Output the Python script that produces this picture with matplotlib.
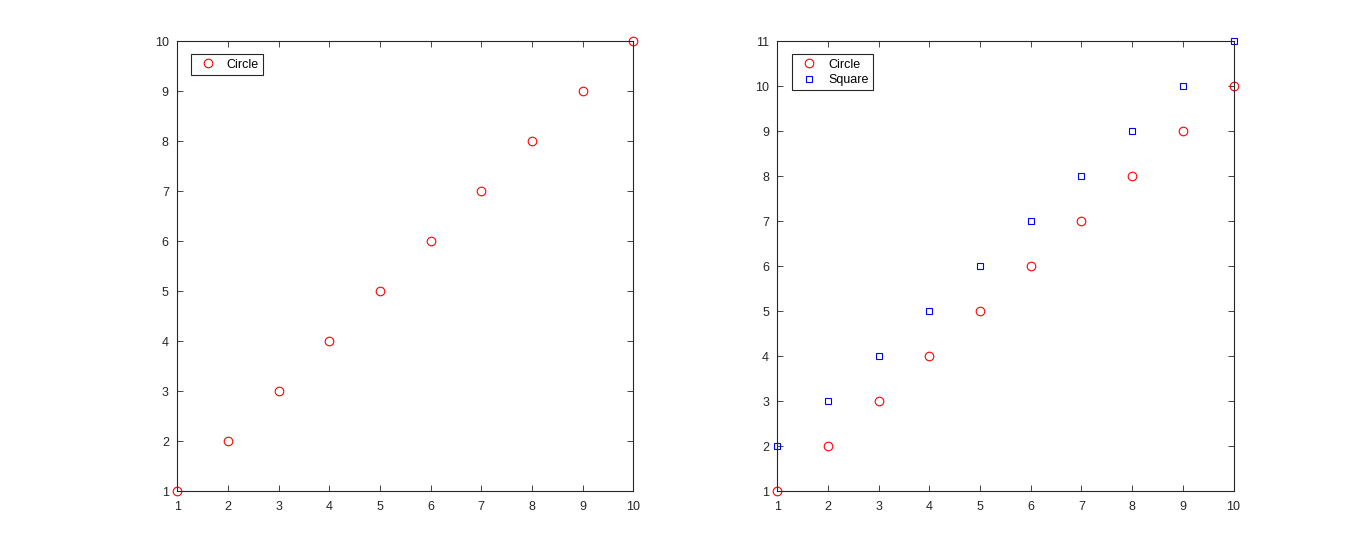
import matplotlib
matplotlib.use('Agg')
import matplotlib.pyplot as plt
import numpy as np

# data
x = [1, 2, 3, 4, 5, 6, 7, 8, 9, 10]
circle_y = [1, 2, 3, 4, 5, 6, 7, 8, 9, 10]
square_y = [2, 3, 4, 5, 6, 7, 8, 9, 10, 11]

plt.rcParams['font.family'] = ['Liberation Sans', 'DejaVu Sans']
plt.rcParams['font.size'] = 9

axis_color = '#262626'
fs = 9

fig = plt.figure(figsize=(13.63, 5.52), dpi=100)

# MATLAB default subplot positions
ax1 = fig.add_axes([0.13, 0.11, 0.3347, 0.815])
ax2 = fig.add_axes([0.5703, 0.11, 0.3347, 0.815])


def style_axes(ax, ymax):
    ax.set_xlim(1, 10)
    ax.set_ylim(1, ymax)
    ax.set_xticks(range(1, 11))
    ax.set_yticks(range(1, ymax + 1))
    ax.tick_params(direction='in', length=4, width=0.6, colors=axis_color,
                   top=True, right=True, labelsize=fs)
    ax.tick_params(axis='x', pad=7)
    ax.tick_params(axis='y', pad=6)
    for s in ax.spines.values():
        s.set_color(axis_color)
        s.set_linewidth(0.8)


def add_legend(ax, dx, dy):
    w = ax.bbox.width
    h = ax.bbox.height
    leg = ax.legend(loc='upper left', bbox_to_anchor=(dx / w, 1 - dy / h),
                    borderaxespad=0, fancybox=False, framealpha=1,
                    edgecolor=axis_color, fontsize=fs, handlelength=2.0,
                    borderpad=0.35, handletextpad=0.5, labelspacing=0.25)
    leg.get_frame().set_linewidth(0.8)


# left: circles only
ax1.plot(x, circle_y, 'o', color='red', mfc='none', ms=6.2, mew=0.8,
         label='Circle', clip_on=False)
style_axes(ax1, 10)
add_legend(ax1, 14, 13)

# right: circles and squares
ax2.plot(x, circle_y, 'o', color='red', mfc='none', ms=6.2, mew=0.8,
         label='Circle', clip_on=False)
ax2.plot(x, square_y, 's', color='blue', mfc='none', ms=4.6, mew=0.8,
         label='Square', clip_on=False)
style_axes(ax2, 11)
add_legend(ax2, 15, 13)

plt.savefig('out.png', dpi=100)
